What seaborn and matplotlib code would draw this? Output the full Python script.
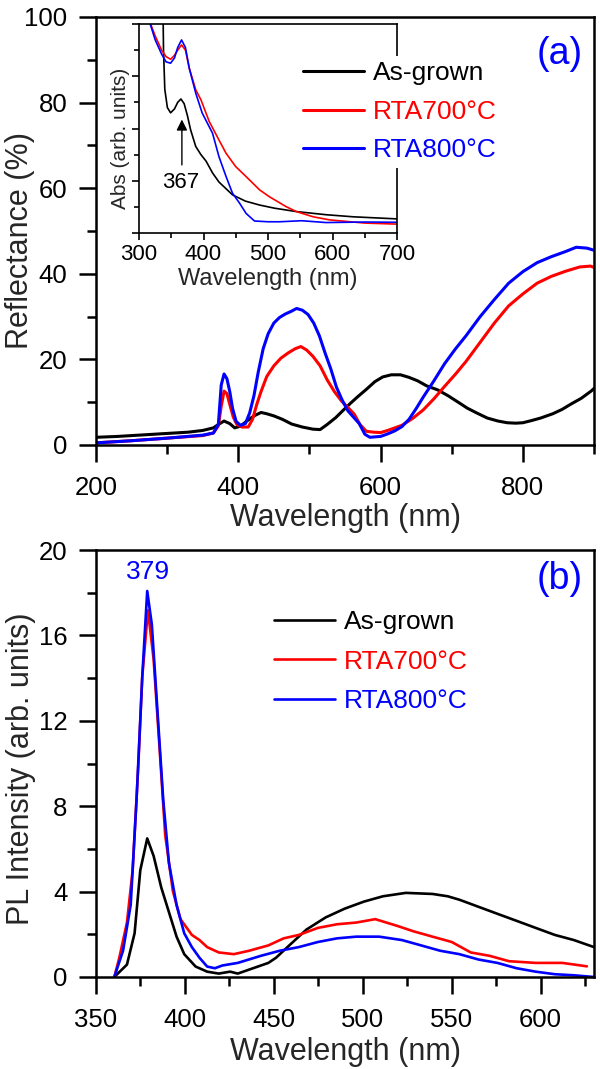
import matplotlib
matplotlib.use("Agg")
import matplotlib.pyplot as plt
import seaborn as sns
from matplotlib.ticker import MultipleLocator, NullFormatter

sns.set_theme(style="ticks")
plt.rcParams['font.family'] = ['Liberation Sans', 'DejaVu Sans']

# ---------------- (a) reflectance ----------------
refl_black_x = [200, 230, 260, 300, 330, 350, 365, 372, 380, 388, 395, 403, 412, 422, 432, 440, 450, 462, 475,
                490, 505, 515, 525, 537, 548, 558, 568, 580, 592, 603, 615, 628, 640, 652, 665, 680, 695, 710,
                722, 735, 750, 765, 778, 790, 800, 812, 825, 842, 855, 868, 882, 896, 900]
refl_black_y = [1.8, 2.0, 2.3, 2.7, 3.0, 3.4, 4.0, 4.8, 5.6, 5.0, 4.0, 4.4, 5.6, 6.8, 7.6, 7.3, 6.8, 6.0, 4.9,
                4.2, 3.7, 3.6, 4.8, 6.4, 8.2, 9.8, 11.3, 13.0, 14.8, 15.9, 16.4, 16.4, 15.8, 15.0, 13.8, 12.9,
                11.5, 9.9, 8.6, 7.5, 6.3, 5.6, 5.2, 5.1, 5.2, 5.7, 6.3, 7.3, 8.3, 9.6, 10.9, 12.6, 13.2]

refl_red_x = [200, 250, 300, 350, 365, 372, 376, 380, 384, 388, 393, 398, 405, 414, 420, 426, 432, 440, 450,
              460, 470, 480, 488, 496, 505, 515, 525, 535, 545, 555, 563, 571, 580, 590, 600, 610, 620, 630,
              645, 660, 675, 690, 705, 720, 740, 760, 780, 800, 820, 840, 860, 880, 895, 900]
refl_red_y = [0.5, 1.0, 1.6, 2.2, 2.8, 4.5, 9.0, 12.6, 12.0, 9.5, 6.5, 4.8, 4.2, 4.2, 6.0, 9.5, 12.5, 16.0,
              18.5, 20.3, 21.5, 22.5, 23.0, 22.2, 20.7, 18.5, 15.2, 12.5, 10.3, 8.6, 7.2, 4.8, 3.2, 3.0, 2.9,
              3.4, 4.0, 4.6, 6.2, 8.2, 10.8, 13.7, 16.5, 19.5, 24.0, 28.5, 32.5, 35.3, 37.8, 39.4, 40.6, 41.6,
              41.8, 41.5]

refl_blue_x = [200, 250, 300, 350, 365, 372, 376, 380, 384, 388, 392, 397, 403, 410, 416, 422, 428, 435, 442,
               450, 458, 466, 474, 482, 490, 498, 506, 514, 522, 530, 538, 546, 554, 562, 570, 578, 585, 592,
               600, 610, 620, 630, 640, 650, 660, 675, 690, 705, 720, 740, 760, 780, 800, 820, 840, 860, 875,
               890, 900]
refl_blue_y = [0.5, 1.0, 1.6, 2.3, 2.8, 4.8, 14.0, 16.6, 15.5, 12.5, 8.5, 5.5, 4.6, 5.0, 7.5, 11.5, 17.0,
               22.5, 26.0, 28.5, 29.8, 30.6, 31.2, 31.9, 31.5, 30.5, 28.5, 25.5, 21.5, 17.8, 13.5, 10.5, 8.0,
               6.5, 5.0, 2.5, 1.8, 1.9, 2.0, 2.6, 3.3, 4.3, 6.0, 8.5, 11.2, 15.0, 19.0, 22.4, 25.5, 30.0, 34.0,
               37.8, 40.5, 42.6, 44.0, 45.2, 46.2, 46.0, 45.5]

# ---------------- inset absorbance ----------------
abs_black_x = [337, 338, 340, 344, 349, 355, 360, 365, 370, 375, 380, 388, 396, 404, 414, 424, 445, 465, 487,
               510, 544, 590, 632, 700]
abs_black_y = [9.0, 7.0, 5.5, 4.8, 4.6, 4.75, 5.0, 5.13, 4.95, 4.5, 3.95, 3.31, 3.0, 2.75, 2.3, 1.95, 1.46,
               1.22, 1.07, 0.95, 0.82, 0.7, 0.62, 0.54]

abs_red_x = [300, 310, 318, 325, 335, 342, 349, 355, 360, 366, 372, 378, 388, 396, 409, 424, 435, 450, 466,
             487, 502, 528, 544, 570, 596, 650, 700]
abs_red_y = [9.5, 8.7, 8.0, 7.55, 7.0, 6.75, 6.65, 6.8, 7.0, 7.2, 7.0, 6.3, 5.48, 5.1, 4.26, 3.56, 3.05, 2.54,
             2.16, 1.65, 1.39, 1.01, 0.82, 0.62, 0.5, 0.38, 0.34]

abs_blue_x = [300, 310, 318, 325, 335, 342, 349, 355, 360, 366, 372, 378, 388, 398, 414, 424, 435, 445, 456,
              466, 479, 500, 518, 552, 590, 650, 700]
abs_blue_y = [9.5, 8.65, 7.95, 7.4, 6.85, 6.55, 6.5, 6.7, 7.1, 7.39, 7.1, 6.3, 5.35, 4.59, 3.82, 2.92, 2.16,
              1.52, 1.14, 0.75, 0.46, 0.43, 0.43, 0.47, 0.40, 0.42, 0.41]

# ---------------- (b) PL ----------------
pl_black_x = [360.3, 367.4, 371.7, 374.9, 378.8, 382.4, 386.7, 391, 395.3, 399.6, 406, 412.5, 419, 425.4,
              429.7, 438.3, 446.9, 451.2, 459.7, 468.3, 479.1, 489.8, 500.6, 511.3, 524.2, 539.2, 547.8,
              554.3, 565, 575.7, 586.5, 597.2, 608, 618.7, 630]
pl_black_y = [0, 0.58, 2.05, 5.0, 6.49, 5.67, 4.19, 3.04, 1.89, 1.07, 0.49, 0.25, 0.16, 0.25, 0.16, 0.41,
              0.66, 0.9, 1.56, 2.22, 2.79, 3.2, 3.53, 3.78, 3.94, 3.89, 3.78, 3.62, 3.29, 2.96, 2.63, 2.3,
              1.97, 1.73, 1.4]

pl_red_x = [360.3, 363.1, 367.4, 370.6, 373.8, 376, 379.2, 382.4, 385.7, 388.9, 393.2, 397.5, 403.9, 408.2,
            412.5, 419, 427.5, 436.1, 446.9, 455.5, 464, 474.8, 485.5, 496.3, 507, 519.9, 528.5, 539.2, 550,
            560.7, 571.4, 582.2, 597.2, 612.2, 626]
pl_red_y = [0, 0.9, 2.55, 5.0, 9.94, 14.05, 17.17, 14.87, 10.76, 6.66, 4.03, 2.71, 1.97, 1.73, 1.4, 1.15,
            1.07, 1.23, 1.48, 1.81, 1.97, 2.3, 2.47, 2.55, 2.71, 2.38, 2.14, 1.89, 1.64, 1.15, 0.99, 0.74,
            0.66, 0.66, 0.5]

pl_blue_x = [360.3, 365.2, 369.5, 372.8, 376, 378.8, 381.4, 384.6, 387.8, 391, 395.3, 399.6, 403.9, 408.2,
             412.5, 416.8, 421.1, 429.7, 442.6, 453.3, 464, 474.8, 485.5, 496.3, 509.2, 522, 532.8, 543.5,
             554.3, 565, 575.7, 586.5, 597.2, 608, 618.7, 630]
pl_blue_y = [0, 1.23, 3.37, 8.3, 14.05, 18.08, 16.5, 12.4, 8.3, 5.34, 3.37, 2.05, 1.4, 0.9, 0.49, 0.41, 0.54,
             0.66, 0.99, 1.23, 1.4, 1.64, 1.81, 1.89, 1.89, 1.73, 1.48, 1.23, 1.07, 0.82, 0.66, 0.41, 0.25,
             0.13, 0.08, 0.0]

series_labels = ['As-grown', 'RTA700°C', 'RTA800°C']
series_colors = ['#000000', '#ff0000', '#0000ff']

W, H = 600, 1069
fig = plt.figure(figsize=(W / 100, H / 100), dpi=100)


def box(l, t, r, b):
    return [l / W, 1 - b / H, (r - l) / W, (b - t) / H]


def style(ax, lw=1.8, major=12, minor=6.5, size=18.5, padx=10, pady=8.5):
    for s in ax.spines.values():
        s.set_linewidth(lw)
        s.set_color('black')
    ax.tick_params(which='both', direction='out', width=lw, colors='black')
    ax.tick_params(which='major', length=major, labelsize=size)
    ax.tick_params(which='minor', length=minor)
    ax.tick_params(axis='x', pad=padx)
    ax.tick_params(axis='y', pad=pady)
    ax.set_facecolor('white')


def draw(ax, x, y, color, lw):
    sns.lineplot(x=x, y=y, ax=ax, color=color, lw=lw, sort=False, estimator=None, legend=False)


# ---- top panel ----
ax1 = fig.add_axes(box(96, 17, 594, 445))
for xs, ys, c in zip([refl_black_x, refl_red_x, refl_blue_x], [refl_black_y, refl_red_y, refl_blue_y],
                     series_colors):
    draw(ax1, xs, ys, c, 2.2)
ax1.set_xlim(200, 900)
ax1.set_ylim(0, 100)
ax1.xaxis.set_major_locator(MultipleLocator(200))
ax1.xaxis.set_minor_locator(MultipleLocator(100))
ax1.yaxis.set_major_locator(MultipleLocator(20))
ax1.yaxis.set_minor_locator(MultipleLocator(10))
style(ax1)
ax1.set_xlabel('Wavelength (nm)', fontsize=22)
ax1.set_ylabel('Reflectance (%)', fontsize=22)
ax1.xaxis.set_label_coords(0.5, -0.135)
ax1.yaxis.set_label_coords(-0.123, 0.477)
fig.text(560 / W, 1 - 54 / H, '(a)', fontsize=27, color='#0000ff', ha='center', va='center')

# ---- inset ----
axi = fig.add_axes(box(139, 24, 397, 233))
for xs, ys, c in zip([abs_black_x, abs_red_x, abs_blue_x], [abs_black_y, abs_red_y, abs_blue_y],
                     series_colors):
    draw(axi, xs, ys, c, 1.2)
axi.set_xlim(300, 700)
axi.set_ylim(0, 8)
axi.xaxis.set_major_locator(MultipleLocator(100))
axi.xaxis.set_minor_locator(MultipleLocator(50))
axi.yaxis.set_major_locator(MultipleLocator(2))
axi.yaxis.set_minor_locator(MultipleLocator(1))
axi.yaxis.set_major_formatter(NullFormatter())
style(axi, lw=1.2, major=5, minor=3.5, size=16, padx=3, pady=2)
axi.set_xlabel('Wavelength (nm)', fontsize=17)
axi.set_ylabel('Abs (arb. units)', fontsize=15)
axi.xaxis.set_label_coords(0.5, -0.168)
axi.yaxis.set_label_coords(-0.035, 0.455)
axi.annotate('', xy=(366.5, 4.45), xytext=(366.5, 2.5),
             arrowprops=dict(arrowstyle='-|>', color='black', lw=1.0, mutation_scale=16))
axi.text(365, 1.95, '367', fontsize=16, ha='center', va='center', color='black')

handles1 = ax1.get_lines()[:3]
leg1 = axi.legend(handles1, series_labels, loc='upper left', bbox_to_anchor=(298 / W, 1 - 56 / H),
                  bbox_transform=fig.transFigure, frameon=True, fancybox=False, framealpha=1,
                  edgecolor='white', facecolor='white', fontsize=19, handlelength=2.3,
                  handletextpad=0.35, labelspacing=0.55, borderpad=0.2, borderaxespad=0)
leg1.get_frame().set_linewidth(0)
for t, c in zip(leg1.get_texts(), series_colors):
    t.set_color(c)

# ---- bottom panel ----
ax2 = fig.add_axes(box(96, 550, 594, 977))
for xs, ys, c in zip([pl_black_x, pl_red_x, pl_blue_x], [pl_black_y, pl_red_y, pl_blue_y], series_colors):
    draw(ax2, xs, ys, c, 1.9)
ax2.set_xlim(350, 630)
ax2.set_ylim(0, 20)
ax2.xaxis.set_major_locator(MultipleLocator(50))
ax2.xaxis.set_minor_locator(MultipleLocator(25))
ax2.yaxis.set_major_locator(MultipleLocator(4))
ax2.yaxis.set_minor_locator(MultipleLocator(2))
style(ax2)
ax2.set_xlabel('Wavelength (nm)', fontsize=22)
ax2.set_ylabel('PL Intensity (arb. units)', fontsize=22)
ax2.xaxis.set_label_coords(0.5, -0.14)
ax2.yaxis.set_label_coords(-0.121, 0.487)
ax2.text(379, 18.97, '379', fontsize=19, color='#0000ff', ha='center', va='center')
fig.text(560 / W, 1 - 579 / H, '(b)', fontsize=27, color='#0000ff', ha='center', va='center')
handles2 = ax2.get_lines()[:3]
leg2 = ax2.legend(handles2, series_labels, loc='upper left', bbox_to_anchor=(269 / W, 1 - 605 / H),
                  bbox_transform=fig.transFigure, frameon=False, fontsize=19, handlelength=2.3,
                  handletextpad=0.35, labelspacing=0.58, borderpad=0.2, borderaxespad=0)
for t, c in zip(leg2.get_texts(), series_colors):
    t.set_color(c)

fig.savefig('out.png', dpi=100, facecolor='white')
